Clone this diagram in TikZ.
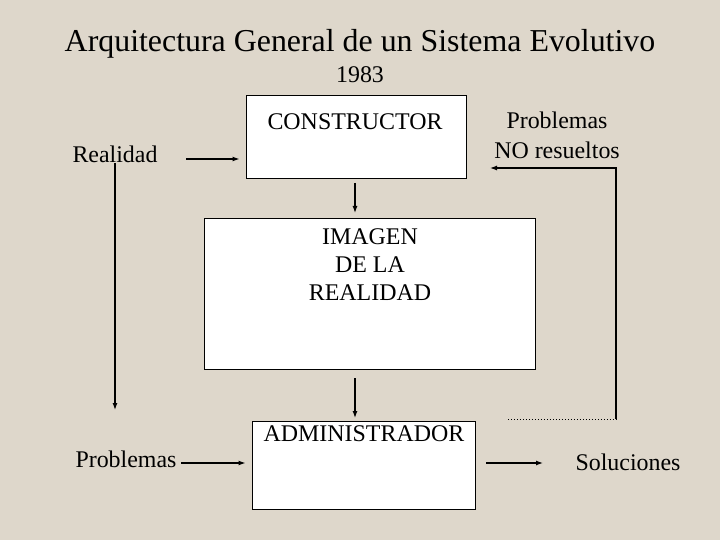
\documentclass[tikz,border=0pt]{standalone}
\usepackage{fontspec}
\setmainfont{Liberation Serif}
\usetikzlibrary{arrows.meta}
\definecolor{bg}{RGB}{222,215,203}
\begin{document}
\begin{tikzpicture}[x=1bp,y=-1bp,
  box/.style={draw=black,fill=white,line width=1bp,inner sep=0pt},
  txt/.style={inner sep=0pt,font=\fontsize{24}{28}\selectfont,align=center},
  arr/.style={line width=1.2bp,-{Latex[length=7bp,width=5bp]}},
  ln/.style={line width=1.2bp}]
\fill[bg] (0,0) rectangle (720,540);
\useasboundingbox (0,0) rectangle (720,540);
% title
\node[inner sep=0pt,font=\fontsize{32}{36}\selectfont] (title) at (360,44) {Arquitectura General de un Sistema Evolutivo};
\node[txt] (year) at (360,75) {1983};
% boxes
\node[box,minimum width=220bp,minimum height=83bp] (cons) at (356,137.5) {};
\node[txt] (conslbl) at (355,122) {CONSTRUCTOR};
\node[box,minimum width=331bp,minimum height=150bp] (img) at (369.5,294) {};
\node[txt] (imglbl) at (370,265) {IMAGEN\\DE LA\\REALIDAD};
\node[box,minimum width=223bp,minimum height=88bp] (adm) at (363.5,465) {};
\node[txt] (admlbl) at (364,434) {ADMINISTRADOR};
% outside labels
\node[txt] (real) at (115,154) {Realidad};
\node[txt] (prob) at (126,459) {Problemas};
\node[txt,font=\fontsize{24}{30}\selectfont] (nores) at (557,135) {Problemas\\NO resueltos};
\node[txt] (sol) at (628,462) {Soluciones};
% coordinates
\coordinate (ra) at (186,159);
\coordinate (ltop) at (115,163);
\coordinate (lbot) at (115,410);
\coordinate (pa) at (181,463);
\coordinate (sa) at (486,463);
\coordinate (se) at (543,463);
\coordinate (fd) at (508,419);
\coordinate (fc) at (616,419);
\coordinate (ft) at (616,168);
\coordinate (fe) at (490,168);
% connectors
\draw[arr,shorten >=6bp] (ra) -- (ra -| cons.west);
\draw[arr] (ltop) -- (lbot);
\draw[arr,shorten >=6bp] (pa) -- (pa -| adm.west);
\draw[arr,shorten <=4bp,shorten >=6bp] (355,179) -- (355,219);
\draw[arr,shorten <=9bp,shorten >=3bp] (355,369) -- (355,421);
\draw[arr] (sa) -- (se);
\draw[line width=1bp,dotted] (fd) -- (fc);
\draw[arr] (fc) -- (ft) -- (fe);
\end{tikzpicture}
\end{document}
